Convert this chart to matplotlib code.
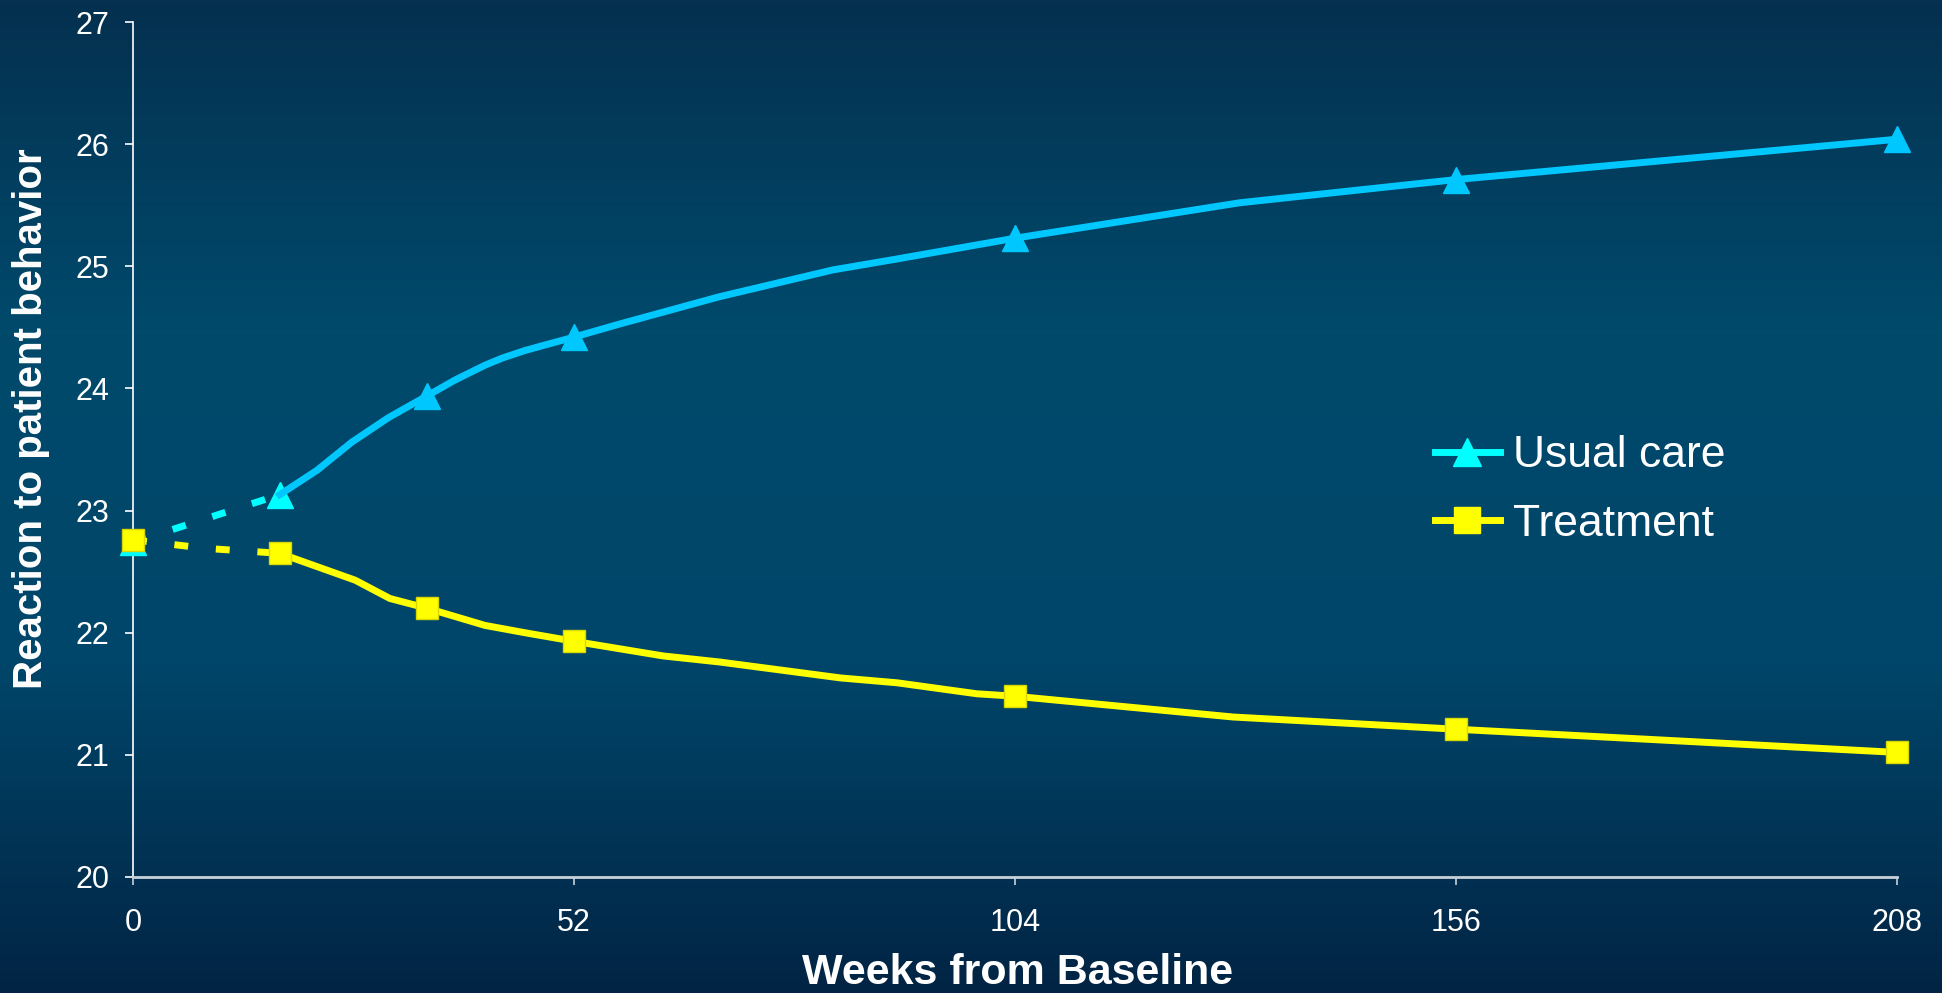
import numpy as np
import matplotlib.pyplot as plt
from matplotlib.colors import LinearSegmentedColormap
from matplotlib.lines import Line2D

plt.rcParams["font.family"] = ["Liberation Sans", "DejaVu Sans"]

# Weeks since baseline and model estimates for each group
dash_weeks = [0, 17.3]
usual_dash = [22.74, 23.13]
treat_dash_weeks = [0, 8.7, 17.3]
treat_dash = [22.76, 22.69, 22.65]

usual_weeks = [17.3, 21.7, 25.8, 30.1, 34.7, 38.0, 41.5, 43.6, 46.2, 48.8, 52.0,
               57.0, 69.1, 82.5, 90.1, 104.0, 130.5, 156.0, 208.0]
usual_vals = [23.13, 23.33, 23.56, 23.76, 23.94, 24.07, 24.19, 24.25, 24.31, 24.36, 24.42,
              24.52, 24.75, 24.97, 25.06, 25.23, 25.52, 25.71, 26.04]

treat_weeks = [17.3, 26.2, 30.3, 34.7, 41.5, 46.2, 52.0, 62.5, 69.2, 83.4, 90.1,
               99.5, 104.0, 129.7, 156.0, 208.0]
treat_vals = [22.65, 22.43, 22.28, 22.20, 22.06, 22.00, 21.93, 21.81, 21.76, 21.63, 21.59,
              21.50, 21.48, 21.31, 21.21, 21.02]

visit_weeks = [34.7, 52.0, 104.0, 156.0, 208.0]
x_ticks = [0, 52, 104, 156, 208]
y_ticks = [20, 21, 22, 23, 24, 25, 26, 27]

SKY = "#00c8ff"
CYAN = "#00ffff"
YELLOW = "#ffff00"

fig = plt.figure(figsize=(19.42, 9.93), dpi=100)

# slide-style vertical gradient behind everything
bg = fig.add_axes([0, 0, 1, 1], zorder=-10)
grad = LinearSegmentedColormap.from_list(
    "slide", ["#05304f", "#004a6c", "#00466a", "#022444"])
bg.imshow(np.linspace(0, 1, 256).reshape(-1, 1), aspect="auto", cmap=grad,
          extent=[0, 1, 0, 1])
bg.set_axis_off()

ax = fig.add_axes([133 / 1942, 1 - 877 / 993, 1764 / 1942, 855 / 993])
ax.set_facecolor("none")

lw = 5
dash = (0, (2.0, 4.0))

# dashed lead-in from baseline to the first visit
ax.plot(dash_weeks, usual_dash, color=CYAN, lw=lw, ls=dash, dash_capstyle="butt",
        marker="^", ms=19, mec=CYAN, clip_on=False, zorder=3)
ax.plot(treat_dash_weeks, treat_dash, color=YELLOW, lw=lw, ls=dash,
        dash_capstyle="butt", zorder=3)

usual_mark = [i for i, w in enumerate(usual_weeks) if w in visit_weeks]
treat_mark = [i for i, w in enumerate(treat_weeks) if w in visit_weeks]
ax.plot(usual_weeks, usual_vals, color=SKY, lw=lw, marker="^", ms=19,
        markevery=usual_mark, clip_on=False, zorder=3)
ax.plot(treat_weeks, treat_vals, color=YELLOW, lw=lw, marker="s", ms=16.5,
        mec="#d8d800", mew=1, markevery=treat_mark + [0], clip_on=False, zorder=4)
ax.plot([treat_dash_weeks[0]], [treat_dash[0]], ls="none", marker="s", ms=16.5,
        color=YELLOW, mec="#d8d800", mew=1, clip_on=False, zorder=5)

ax.set_xlim(0, 208)
ax.set_ylim(20, 27)
ax.set_xticks(x_ticks)
ax.set_yticks(y_ticks)
ax.tick_params(axis="both", colors="white", labelsize=22, length=6, width=1.2,
               direction="out")
ax.tick_params(axis="x", pad=16, colors="#c8d0d8", labelcolor="white")
ax.tick_params(axis="y", pad=11)
for side in ["top", "right"]:
    ax.spines[side].set_visible(False)
ax.spines["left"].set_color("white")
ax.spines["left"].set_linewidth(1.2)
ax.spines["bottom"].set_color("#c8d0d8")
ax.spines["bottom"].set_linewidth(2)

fig.text(1018 / 1942, 1 - 973 / 993, "Weeks from Baseline", color="white",
         fontsize=31, fontweight="bold", ha="center", va="center")
fig.text(31 / 1942, 1 - 419 / 993, "Reaction to patient behavior", color="white",
         fontsize=29, fontweight="bold", ha="center", va="center", rotation=90)

handles = [
    Line2D([], [], color=CYAN, lw=lw, marker="^", ms=20),
    Line2D([], [], color=YELLOW, lw=lw, marker="s", ms=19),
]
leg = ax.legend(handles, ["Usual care", "Treatment"], loc="center left",
                bbox_to_anchor=(1413 / 1942, 1 - 490 / 993),
                bbox_transform=fig.transFigure, frameon=False, fontsize=32,
                handlelength=1.45, handletextpad=0.3, labelspacing=0.62,
                borderpad=0)
for t in leg.get_texts():
    t.set_color("white")

fig.savefig("out.png", dpi=100)
